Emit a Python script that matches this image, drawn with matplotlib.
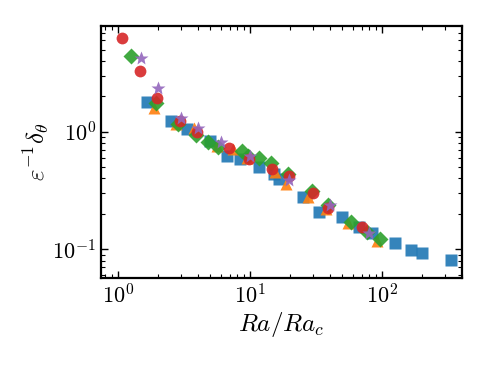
import numpy as np
import matplotlib
matplotlib.use('Agg')
import matplotlib.pyplot as plt

plt.rcParams['mathtext.fontset'] = 'cm'
plt.rcParams['font.family'] = 'serif'
plt.rcParams['font.serif'] = ['cmr10', 'DejaVu Serif']
plt.rcParams['axes.formatter.use_mathtext'] = True

# values (x = Ra/Ra_c, y = eps^-1 delta_theta)
sq_x = [1.67, 2.5, 3.33, 5.0, 6.67, 8.33, 11.7, 15.2, 16.7, 25, 33.3, 50, 67, 84.5, 125, 166, 200, 332]
sq_y = [1.78, 1.23, 1.05, 0.83, 0.62, 0.59, 0.50, 0.44, 0.395, 0.276, 0.208, 0.188, 0.153, 0.136, 0.113, 0.098, 0.092, 0.0805]

tri_x = [1.87, 2.75, 3.76, 5.59, 7.48, 9.4, 15.5, 18.7, 27.7, 37.7, 55.6, 91]
tri_y = [1.58, 1.16, 1.07, 0.76, 0.71, 0.60, 0.456, 0.358, 0.276, 0.218, 0.166, 0.118]

dia_x = [1.25, 1.94, 2.86, 3.88, 4.83, 5.75, 8.65, 9.7, 11.7, 14.4, 19.3, 29.3, 38.8, 58.2, 76.6, 96.6]
dia_y = [4.42, 1.75, 1.16, 0.94, 0.82, 0.736, 0.68, 0.62, 0.60, 0.537, 0.44, 0.314, 0.24, 0.169, 0.139, 0.121]

circ_x = [1.07, 1.47, 1.97, 2.95, 3.95, 6.93, 9.8, 14.7, 19.7, 29.9, 39, 70.6]
circ_y = [6.3, 3.29, 1.94, 1.23, 0.99, 0.73, 0.59, 0.48, 0.42, 0.30, 0.224, 0.154]

star_x = [1.49, 2.0, 2.98, 4.0, 6.0, 10, 19.8, 40, 80]
star_y = [4.22, 2.34, 1.30, 1.07, 0.82, 0.62, 0.387, 0.237, 0.138]

fig = plt.figure(figsize=(4.88, 3.66), dpi=100)
ax = fig.add_axes([0.207, 0.240, 0.740, 0.689])

ax.plot(sq_x, sq_y, 's', color='tab:blue', ms=8.5, alpha=0.9, mec='none')
ax.plot(tri_x, tri_y, '^', color='tab:orange', ms=8.5, alpha=0.9, mec='none')
ax.plot(dia_x, dia_y, 'D', color='tab:green', ms=8, alpha=0.9, mec='none')
ax.plot(circ_x, circ_y, 'o', color='tab:red', ms=8.5, alpha=0.9, mec='none')
ax.plot(star_x, star_y, '*', color='tab:purple', ms=10, alpha=0.9, mec='none')

ax.set_xscale('log')
ax.set_yscale('log')
ax.set_xlim(0.743, 404)
ax.set_ylim(0.0566, 7.96)

ax.tick_params(which='both', direction='in', top=True, right=True, labelsize=16)
ax.tick_params(which='major', length=5, width=1)
ax.tick_params(which='minor', length=3, width=0.8)
for s in ax.spines.values():
    s.set_linewidth(1.6)

ax.set_xlabel(r'$Ra/Ra_c$', fontsize=18, labelpad=2)
ax.set_ylabel(r'$\varepsilon^{-1}\delta_\theta$', fontsize=18, labelpad=1)

fig.savefig('out.png', dpi=100)
